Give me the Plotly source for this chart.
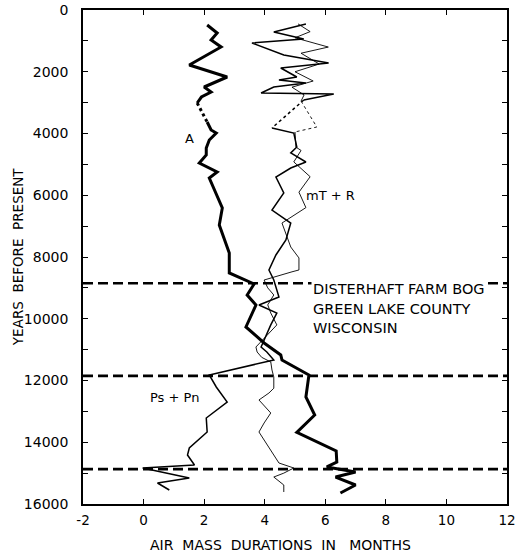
import plotly.graph_objects as go

# ---------------- data ----------------
# A (thick line)
a_years = [486, 745, 972, 1198, 1781, 2170, 2494, 2656, 2818, 3012, 3628, 3887, 3984, 4211,
           4470, 4696, 4955, 5247, 5441, 6413, 6964, 7870, 8518, 8874, 9231, 9555, 10267,
           10785, 11174, 11336, 11822, 12534, 13117, 13680, 14280, 14640, 14800, 14963,
           15126, 15385, 15644]
a_vals = [2.10, 2.43, 2.23, 2.56, 1.51, 2.76, 2.00, 2.23, 1.91, 1.77, 2.10, 2.23, 2.40, 2.17,
          2.07, 2.07, 1.84, 2.43, 2.17, 2.60, 2.50, 2.83, 2.83, 3.65, 3.42, 3.71, 3.38,
          3.98, 4.53, 4.57, 5.46, 5.36, 5.65, 5.06, 6.36, 6.38, 6.05, 7.00,
          6.34, 7.00, 6.50]
a_dotted = (3012, 3628)

# Ps + Pn (medium line)
p_years = [453, 713, 939, 1069, 1457, 1717, 1879, 2170, 2267, 2364, 2494, 2688, 2721, 2915,
           3822, 3984, 4437, 4630, 4923, 5117, 5409, 5927, 6478, 6899, 7450, 7935, 8421,
           8745, 9295, 9555, 9815, 10200, 10915, 11077, 11336, 11822, 12210, 12696, 13214,
           13668, 14186, 14413, 14737, 14834, 15158, 15320, 15547]
p_vals = [5.36, 4.30, 5.29, 3.58, 4.63, 6.11, 4.53, 5.06, 4.47, 5.36, 4.30, 3.88, 6.28, 5.29,
          4.24, 4.96, 5.06, 4.86, 5.36, 4.86, 4.37, 4.63, 4.24, 4.86, 4.70, 4.37, 4.14,
          4.30, 4.47, 3.81, 4.40, 4.20, 3.88, 4.07, 4.30, 2.17, 2.40, 2.76, 2.07,
          2.10, 1.51, 1.45, 1.68, -0.03, 1.51, 0.46, 0.85]
p_dotted = (2915, 3822)

# mT + R (thin line)
m_years = [450, 700, 900, 1200, 1400, 1750, 2000, 2300, 2500, 2750, 2950, 3790, 3950, 4440,
           4550, 4920, 5400, 5900, 6400, 6700, 6900, 7676, 8030, 8420, 8480, 8745, 9000,
           9230, 9550, 9815, 10200, 10915, 11077, 11250, 11400, 11660, 11887, 12250, 12405,
           12631, 13052, 13376, 13668, 14672, 14834, 15000, 15126, 15385, 15611]
m_vals = [5.10, 5.50, 5.00, 6.10, 5.20, 5.80, 5.00, 5.60, 4.90, 5.30, 5.20, 5.72, 5.00, 5.03,
          5.20, 4.96, 5.50, 5.13, 5.36, 4.86, 4.57, 4.86, 5.13, 5.13, 4.90, 3.98, 4.10,
          4.30, 4.10, 4.20, 4.40, 3.71, 3.75, 3.90, 4.20, 4.24, 4.30, 4.30, 4.14,
          3.81, 4.20, 3.98, 3.81, 4.47, 4.96, 4.63, 4.30, 4.63, 4.63]
m_dotted = (2950, 3950)

zone_years = [8850, 11850, 14870]

x_ticks = [-2, 0, 2, 4, 6, 8, 10, 12]
y_ticks = list(range(0, 16001, 1000))
y_ticktext = [str(v) if v % 2000 == 0 else "" for v in y_ticks]

FONT = "DejaVu Sans"


def split(years, vals, gap):
    g0, g1 = gap
    s1 = [(y, v) for y, v in zip(years, vals) if y <= g0]
    d = [(y, v) for y, v in zip(years, vals) if g0 <= y <= g1]
    s2 = [(y, v) for y, v in zip(years, vals) if y >= g1]
    return s1, d, s2


fig = go.Figure()


def add_series(years, vals, gap, width):
    s1, d, s2 = split(years, vals, gap)
    for seg, dash in ((s1, "solid"), (d, "dot"), (s2, "solid")):
        fig.add_trace(go.Scatter(
            x=[p[1] for p in seg], y=[p[0] for p in seg], mode="lines",
            line=dict(color="black", width=width, dash=dash),
            showlegend=False, hoverinfo="skip"))


add_series(m_years, m_vals, m_dotted, 0.9)
add_series(p_years, p_vals, p_dotted, 1.5)
add_series(a_years, a_vals, a_dotted, 3.0)

for zy in zone_years:
    fig.add_shape(type="line", xref="paper", x0=0, x1=1, yref="y", y0=zy, y1=zy,
                  line=dict(color="black", width=2.6, dash="10px,5px"))

ann_font = dict(family=FONT, size=13, color="black")
fig.add_annotation(x=1.5, y=4150, text="A", showarrow=False, font=ann_font)
fig.add_annotation(x=5.29, y=6000, text="mT + R", showarrow=False, xanchor="left", font=ann_font)
fig.add_annotation(x=0.13, y=12550, text="Ps + Pn", showarrow=False, xanchor="left", font=ann_font)
big_font = dict(family=FONT, size=14.5, color="black")
for txt, yy in (("DISTERHAFT FARM BOG", 9040), ("GREEN LAKE COUNTY", 9700),
                ("WISCONSIN", 10290)):
    fig.add_annotation(x=5.52, y=yy, text=txt, showarrow=False, xanchor="left",
                       font=big_font, bgcolor="white", borderpad=1)

fig.add_annotation(xref="paper", yref="paper", x=(280 - 83) / 424, y=-0.083,
                   text="AIR\u00a0\u00a0MASS\u00a0\u00a0DURATIONS\u00a0\u00a0IN\u00a0\u00a0\u00a0MONTHS",
                   showarrow=False, yanchor="middle", font=dict(family=FONT, size=14, color="black"))
fig.add_annotation(xref="paper", yref="paper", x=-0.153, y=0.5, textangle=-90,
                   text="YEARS\u00a0\u00a0BEFORE\u00a0\u00a0PRESENT",
                   showarrow=False, xanchor="center", yanchor="middle",
                   font=dict(family=FONT, size=13.5, color="black"))

fig.update_xaxes(range=[-2, 12], tickvals=x_ticks, ticktext=[str(v) for v in x_ticks],
                 ticks="inside", ticklen=5, tickwidth=1.2, tickcolor="black",
                 showline=True, linecolor="black", linewidth=1.6, mirror="ticks",
                 showgrid=False, zeroline=False, ticklabelstandoff=3, automargin=False,
                 ticklabeloverflow="allow",
                 tickfont=dict(family=FONT, size=13.5, color="black"))
fig.update_yaxes(range=[16000, 0], tickvals=y_ticks, ticktext=y_ticktext,
                 ticks="inside", ticklen=5, tickwidth=1.2, tickcolor="black",
                 showline=True, linecolor="black", linewidth=1.6, mirror="ticks",
                 showgrid=False, zeroline=False, ticklabelstandoff=10, automargin=False,
                 ticklabeloverflow="allow",
                 tickfont=dict(family=FONT, size=14, color="black"))

fig.update_layout(width=516, height=560, margin=dict(l=83, r=9, t=10, b=56, autoexpand=False),
                  paper_bgcolor="white", plot_bgcolor="white", showlegend=False)

fig.write_html("out.html", config={"displayModeBar": False},
               post_script="document.body.style.margin='0';")
